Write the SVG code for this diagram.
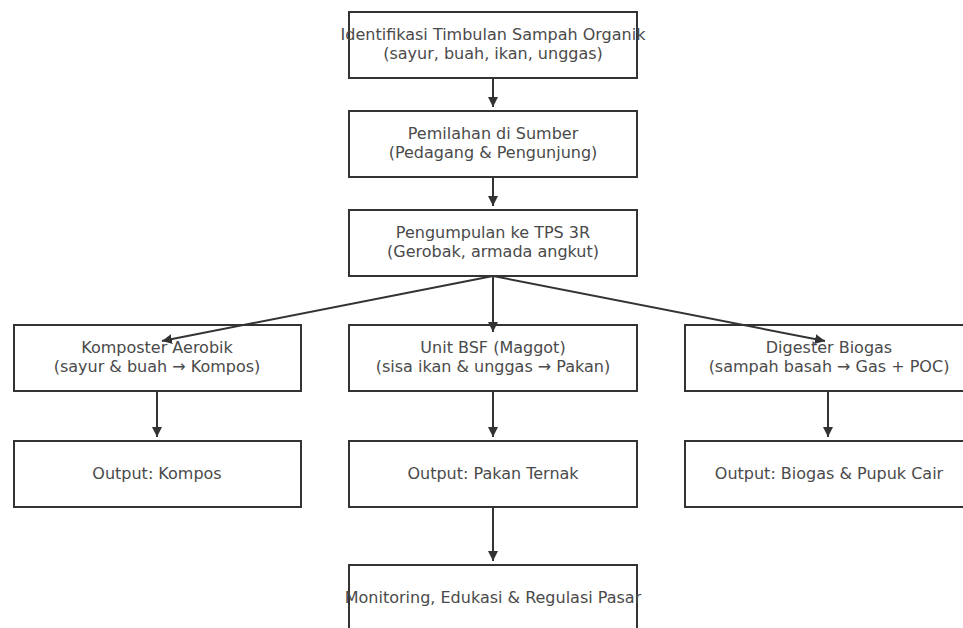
<svg xmlns="http://www.w3.org/2000/svg" width="963" height="628" viewBox="0 0 963 628">
<style>
.box{fill:#fff;stroke:#333;stroke-width:2}
.t{font-family:"DejaVu Sans",sans-serif;font-size:16px;fill:#4a4a4a;text-anchor:middle}
.c{stroke:#333;stroke-width:2;fill:none;marker-end:url(#ah)}
</style>
<defs>
<marker id="ah" viewBox="0 0 10 10" refX="10" refY="5" markerWidth="5" markerHeight="5" orient="auto" markerUnits="strokeWidth">
<path d="M0,0 L10,5 L0,10 z" fill="#333"/>
</marker>
</defs>
<rect width="963" height="628" fill="#fff"/>
<g id="n1"><rect class="box" x="349" y="12" width="288" height="66"/><text class="t" x="493" y="40">Identifikasi Timbulan Sampah Organik</text><text class="t" x="493" y="59">(sayur, buah, ikan, unggas)</text></g>
<g id="n2"><rect class="box" x="349" y="111" width="288" height="66"/><text class="t" x="493" y="139">Pemilahan di Sumber</text><text class="t" x="493" y="158">(Pedagang &amp; Pengunjung)</text></g>
<g id="n3"><rect class="box" x="349" y="210" width="288" height="66"/><text class="t" x="493" y="238">Pengumpulan ke TPS 3R</text><text class="t" x="493" y="257">(Gerobak, armada angkut)</text></g>
<g id="n4"><rect class="box" x="14" y="325" width="287" height="66"/><text class="t" x="157" y="353">Komposter Aerobik</text><text class="t" x="157" y="372">(sayur &amp; buah → Kompos)</text></g>
<g id="n5"><rect class="box" x="349" y="325" width="288" height="66"/><text class="t" x="493" y="353">Unit BSF (Maggot)</text><text class="t" x="493" y="372">(sisa ikan &amp; unggas → Pakan)</text></g>
<g id="n6"><rect class="box" x="685" y="325" width="288" height="66"/><text class="t" x="829" y="353">Digester Biogas</text><text class="t" x="829" y="372">(sampah basah → Gas + POC)</text></g>
<g id="n7"><rect class="box" x="14" y="441" width="287" height="66"/><text class="t" x="157" y="479">Output: Kompos</text></g>
<g id="n8"><rect class="box" x="349" y="441" width="288" height="66"/><text class="t" x="493" y="479">Output: Pakan Ternak</text></g>
<g id="n9"><rect class="box" x="685" y="441" width="288" height="66"/><text class="t" x="829" y="479">Output: Biogas &amp; Pupuk Cair</text></g>
<g id="n10"><rect class="box" x="349" y="565" width="288" height="80"/><text class="t" x="493" y="603">Monitoring, Edukasi &amp; Regulasi Pasar</text></g>
<g id="connectors">
<line class="c" x1="493" y1="78" x2="493" y2="107"/>
<line class="c" x1="493" y1="177" x2="493" y2="206"/>
<line class="c" x1="493" y1="276" x2="162" y2="341"/>
<line class="c" x1="493" y1="276" x2="493" y2="332"/>
<line class="c" x1="493" y1="276" x2="825" y2="341"/>
<line class="c" x1="157" y1="391" x2="157" y2="437"/>
<line class="c" x1="493" y1="391" x2="493" y2="437"/>
<line class="c" x1="828" y1="391" x2="828" y2="437"/>
<line class="c" x1="493" y1="507" x2="493" y2="561"/>
</g>
</svg>
